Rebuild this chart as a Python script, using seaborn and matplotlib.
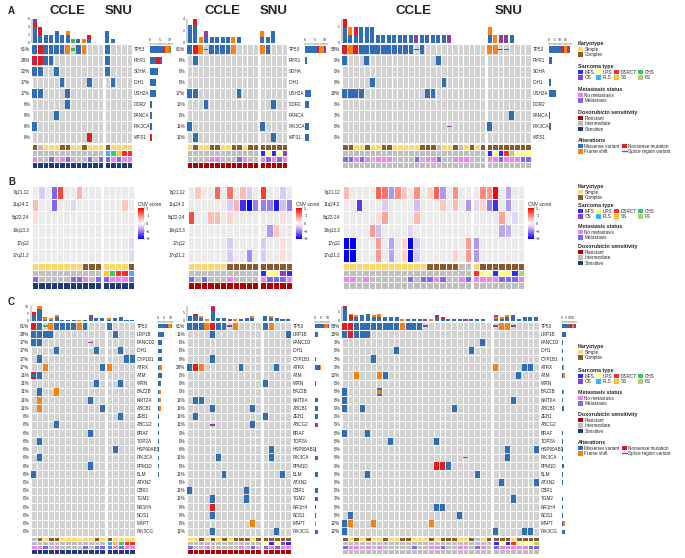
import numpy as np
import matplotlib
matplotlib.use("Agg")
import matplotlib.pyplot as plt
import seaborn as sns
from matplotlib.colors import ListedColormap, LinearSegmentedColormap
from matplotlib.patches import Rectangle, Patch
from matplotlib.lines import Line2D

sns.set_style("white")
plt.rcParams["font.family"] = ["Liberation Sans", "DejaVu Sans"]

# ------------------------------------------------------------------ data
# alteration codes: M missense, N nonsense, F frame shift, S splice region,
# G other (green), X = N+S, Y = M+F, Z = N+M ; '.' none ; '|' splits CCLE | SNU
genes_A = ["TP53", "RYR1", "SDHA", "IDH1", "USH2A", "DDR2", "FANCA", "PIK3CA", "WFS1"]

A1_alts = ["MNMMMMFGMF...|M....", "XNMM.........|M....", "MM..M........|M....",
           ".....M....M..|.M...", "MM....M......|.....", "......M......|.....",
           "....M........|.....", "M............|.....", "..........N..|....."]
A1_pct = ["61%", "28%", "22%", "17%", "17%", "6%", "6%", "6%", "6%"]
A1_kary = "C-SSSCCSSCSSS|CSSSS"
A1_sarc = "-------------|PCSDD"
A1_met = "N--M-NM---M-M|MNMNN"

A2_alts = ["MNFSMMMMF....|FM...", ".M...........|.....", ".............|.....",
           ".............|.....", "MM.......M...|.....", "...M.........|..M..",
           ".............|.....", "M............|M....", ".M...........|..M.."]
A2_pct = ["61%", "6%", "0%", "0%", "17%", "11%", "0%", "11%", "11%"]
A2_kary = "SCSSCCSSCCSCC|CCCCC"
A2_sarc = "-------------|MUMUO"
A2_met = "----NN---MN--|NMNMN"

A3_alts = ["NFNMMMMMMMMMMSM...........|FFSS....",
           "M...M............M........|........",
           "..........................|........",
           ".....M............M.......|........",
           "MMMM...........MM.........|........",
           "..........................|........",
           "..........................|....M...",
           "...................S......|M.......",
           "..........................|........"]
A3_pct = ["58%", "9%", "0%", "6%", "18%", "0%", "3%", "6%", "0%"]
A3_kary = "CCSSCSSCCSSSSSCCC-SSC-SCSC|CCCCCCCC"
A3_sarc = "--------------------------|MUMDFUUU"
A3_met = "MMNMN-NNN----M-NNM--NNN---|NNMNNNMM"

regions_B = ["7q21.12", "11q24.2", "8q22-24", "19q13.3", "17q12", "17q21.2"]
B1_cnv = ["0 -0.4 0 -1.2 1.5 0 0 0.7 0 0 0 | 0 0 0 0 0",
          "0.6 0 0 -1.2 0 0 -0.3 0 0 0 0 | 0 0 0 0.5 0",
          "0.3 0 0 0 0 0 0 0 0 0 0 | 0 0 0 0 0",
          "0 0 0 0 0 0 0 0 0 0 0 | 0 0 0 0 0",
          "0 0 0 0 0 0 0 0 0 0 0 | 0 0 0 0 -0.3",
          "0 0 0 0 0 0 0 0 0 0 0 | 0 0 0 0 -0.3"]
B1_kary = "SSSSSSSSCCC|SSSSC"
B1_sarc = "-----------|SCDDP"
B1_met = "M-----MMN-M|MNNNM"

B2_cnv = ["0 0.5 0 0 1.3 0 1.2 0 0.6 -0.4 0 | 1.6 0 0 -0.4 0",
          "0 0 0 0 0 0 -0.4 0.7 -1.6 -2 -1.0 | -1.0 -1.0 -1.8 -0.5 -1.0",
          "1.5 0 0 0.6 0.6 0 0.4 0 0 0 0 | 0 0 0 0.3 0",
          "0 0 0 0 0 0 0 0 0 0 0 | 0 -0.8 0.5 0 0",
          "0 0 0 0 0 0 -0.4 0 0 0 0 | -0.4 0 0 0.3 0",
          "0 0 0 0 0 0 -0.4 0 0 -0.9 0 | -0.4 0 0 0.3 0"]
B2_kary = "SSSSSSCCCCC|CCCCC"
B2_sarc = "-----------|MUUOM"
B2_met = "M-M---N----|NMMMN"

B3_cnv = ["0.6 0 0 0 0 1.3 1.2 -0.8 1.0 0.5 0 1.0 0 0.4 1.3 -0.8 0 1.0 0 0 | 0 1.0 0.9 2.0 0 -0.7 0 0",
          "0 0 -1.5 0 0 0 -0.4 0 0 0 0 -0.5 0 0 0 0.5 0 0.6 0 -0.8 | -0.3 0.4 -1.0 -1.6 0 -0.8 0 0",
          "0 0 0 0 0 0.3 0.8 0 0 0 0 0.6 0 0 0 0 0 0 0 0 | 0 0 0 -0.2 0.8 0 -0.3 0",
          "0 0 0 0 0.9 -0.5 0 0 0 0 -0.3 0 0 0 0 0 0 0 0 0 | 0 0 0 0 -0.7 -0.6 0 0",
          "-2 -2 0 0 0 0.9 0 -0.7 0 0.4 -2 -0.4 0 0 0 0 0 0 0 0.9 | -0.8 0 0 0 0 0 0 0",
          "-2 -2 0 0 0 0.9 0 -0.7 0 0.4 -2 -0.4 0 0 0 0 0 0.4 0 0.9 | -0.8 0 0 0 0 0 0 0"]
B3_kary = "SSSSSSSSSSSSSCCCCC--|SCCCCCCC"
B3_sarc = "--------------------|DUUMUUMF"
B3_met = "NN-N------M-MMNM--NM|NNNNMMMN"

genes_C = ["TP53", "LRP1B", "FANCD2", "IDH1", "CYP1B1", "ATRX", "ATM", "WRN", "BAZ2B",
           "KMT2A", "ABCB1", "ZEB1", "ABCG2", "BRAF", "TOP2A", "HSP90AB1", "PIK3CA",
           "PPM1D", "BLM", "ATXN2", "CBR1", "TGM2", "NR1H4", "NOS1", "MAPT", "PIK3CG"]

C1_alts = ["NMGFMMMMFM...|M....", "MMMM.........|.M...", "MM........S..|.....",
           "....M......M.|..M..", ".M...........|...MM", "..F.........M|F....",
           "ZM...........|.....", "...........M.|..M..", ".M..F........|.....",
           ".F........M..|.....", ".F..........M|.....", ".............|..M..",
           "....M........|.....", "..........M..|.....", ".M...........|.....",
           ".............|.M...", ".M...........|.....", "..........M..|.....",
           "M............|.....", ".............|.....", ".............|.....",
           ".............|.....", ".............|.....", ".............|.....",
           ".............|.....", ".............|....."]
C1_pct = ["61%", "28%", "17%", "17%", "17%", "17%", "11%", "11%", "11%", "11%", "11%",
          "6%", "6%", "6%", "6%", "6%", "6%", "6%", "6%", "0%", "0%", "0%", "0%", "0%",
          "0%", "0%"]
C1_kary = "-CSCCSSSSSSCS|CSSSS"
C1_sarc = "-------------|PSCDD"
C1_met = "NNM-N----M-MM|MNMNN"

C2_alts = ["MMMFNMMSF....|MF...", "....M........|....M", ".............|.....",
           ".............|.....", "....M........|.....", "MNF......M...|..M..",
           ".............|.....", ".............|M....", ".............|.....",
           ".MM..........|.....", "....M......M.|.....", ".M...........|M....",
           "....S......M.|.....", ".............|.....", ".............|.....",
           ".............|.M...", ".....M.......|.M...", ".............|.....",
           "......M......|...M.", ".............|.....", "M.........M..|.....",
           "....M.....M..|.....", "....N........|.....", "....M........|.....",
           "...........F.|.....", "....M........|..M.."]
C2_pct = ["61%", "11%", "0%", "0%", "6%", "28%", "0%", "6%", "0%", "11%", "11%", "11%",
          "11%", "0%", "0%", "6%", "11%", "0%", "11%", "0%", "11%", "11%", "6%", "6%",
          "0%", "11%"]
C2_kary = "SSCSCSCSCCCSC|CCCCC"
C2_sarc = "-------------|UMUOM"
C2_met = "M--N-----N-M-|MNMNN"

C3_alts = ["NNMMMMMMMMFMMMS...........|SFFS....",
           "MNMMM.....................|........",
           "........................M.|........",
           ".........M............M...|........",
           ".....M....................|........",
           "..........................|F....MM.",
           "..F...FM..................|....M...",
           "..........................|........",
           "M.....Y...................|........",
           "M.........................|...M....",
           "M..M...............M......|........",
           "..........................|........",
           "..........................|........",
           "M...M.....................|........",
           "........M.......M.........|........",
           "..........................|..M....M",
           ".....................S....|..M.....",
           "................NNM.......|........",
           "....M..................M..|........",
           "..........................|.M.....M",
           "..........................|........",
           "..........................|...M....",
           "................MM........|........",
           ".M..................M.....|........",
           "MF...F.........F..........|........",
           "M.........................|M....MM."]
C3_pct = ["58%", "15%", "3%", "6%", "3%", "9%", "12%", "0%", "6%", "6%", "9%", "0%",
          "0%", "6%", "6%", "6%", "6%", "9%", "6%", "6%", "0%", "3%", "6%", "6%",
          "12%", "12%"]
C3_kary = "CSCSCSSCSSCCSSSCSCCCSSC-SC|CCCSCCCC"
C3_sarc = "--------------------------|MUMDUUUF"
C3_met = "MNN-N-N-----M--NNM--NN-MN-|MNNNNNMM"

# ------------------------------------------------------------------ styles
GRID_GREY = "#D3D3D3"
NA_GREY = "#BEBEBE"
CNV_BG = "#EBEBEB"
ORDER = ["M", "N", "F", "S", "G"]
ALT_COLORS = {"M": "#2F6DB5", "N": "#E41A1C", "F": "#FF7F0E", "S": "#8E3FA0", "G": "#4DAF4A"}
COMBO = {"X": "NS", "Y": "MF", "Z": "NM"}
KARY_COL = {"S": "#FFD966", "C": "#8B5A2B", "-": NA_GREY}
SARC_COL = {"M": "#2B2BFF", "U": "#FFFF80", "D": "#FF2A2A", "C": "#2ECC71",
            "O": "#8B3FC9", "P": "#33B5FF", "S": "#FFC125", "F": "#A6D96A", "-": NA_GREY}
MET_COL = {"N": "#EE82EE", "M": "#7B68EE", "-": NA_GREY}
DOX_COL = {"R": "#B20000", "I": NA_GREY, "S": "#1F3A7A"}

ANN_COLORS = []


def cidx(col):
    if col not in ANN_COLORS:
        ANN_COLORS.append(col)
    return ANN_COLORS.index(col)


KARY_IDX = {k: cidx(v) for k, v in KARY_COL.items()}
SARC_IDX = {k: cidx(v) for k, v in SARC_COL.items()}
MET_IDX = {k: cidx(v) for k, v in MET_COL.items()}
DOX_IDX = {k: cidx(v) for k, v in DOX_COL.items()}
ANN_CMAP = ListedColormap(ANN_COLORS)
CNV_CMAP = LinearSegmentedColormap.from_list(
    "cnv", [(0, "#0000FF"), (0.25, "#9C7DF0"), (0.5, "#FFFFFF"), (0.75, "#FF8F80"), (1, "#FF0000")])

FS_LAB = 3.3
W, H = 685, 558
fig = plt.figure(figsize=(W / 100, H / 100), dpi=100)
fig.patch.set_facecolor("white")


def axpx(x0, y0, x1, y1):
    return fig.add_axes([x0 / W, 1 - y1 / H, (x1 - x0) / W, (y1 - y0) / H])


def halves(s):
    a, b = s.split("|")
    return a.strip(), b.strip()


def spans_of(x0, x1, nc, ns, gap=1.6):
    cw = (x1 - x0 - gap) / (nc + ns)
    return [(x0, x0 + cw * nc), (x0 + cw * nc + gap, x1)]


def draw_ann(kary, sarc, met, dox, spans, y0, y1):
    ann = [halves(kary), halves(sarc), halves(met)]
    for k, (xa, xb) in enumerate(spans):
        m = len(ann[0][k])
        codes = np.array([[KARY_IDX[c] for c in ann[0][k]],
                          [SARC_IDX[c] for c in ann[1][k]],
                          [MET_IDX[c] for c in ann[2][k]],
                          [DOX_IDX[dox]] * m])
        axa = axpx(xa, y0, xb, y1)
        sns.heatmap(codes, cmap=ANN_CMAP, vmin=-0.5, vmax=len(ANN_COLORS) - 0.5, cbar=False,
                    linewidths=0.5, linecolor="white", xticklabels=False, yticklabels=False, ax=axa)


def onco(genes, alts, pct, kary, sarc, met, dox, x0, x1, ybar, yg0, yg1, ya1,
         barx, barw, titles=False, tstep=2):
    parts = [[], []]
    for r in alts:
        for k, h in enumerate(halves(r)):
            parts[k].append(["" if c == "." else COMBO.get(c, c) for c in h])
    nc, ns = len(parts[0][0]), len(parts[1][0])
    ng = len(genes)
    spans = spans_of(x0, x1, nc, ns)
    colcounts = []
    genecounts = np.zeros((ng, len(ORDER)))
    for p in parts:
        m = len(p[0])
        cnt = np.zeros((len(ORDER), m))
        for i in range(ng):
            for j in range(m):
                for c in p[i][j]:
                    cnt[ORDER.index(c), j] += 1
                    genecounts[i, ORDER.index(c)] += 1
        colcounts.append(cnt)
    ymax = max(c.sum(0).max() for c in colcounts)
    for k, (p, (xa, xb)) in enumerate(zip(parts, spans)):
        m = len(p[0])
        axb = axpx(xa, ybar, xb, yg0 - 1)
        bottom = np.zeros(m)
        for t, code in enumerate(ORDER):
            axb.bar(np.arange(m) + 0.5, colcounts[k][t], bottom=bottom, width=0.72,
                    color=ALT_COLORS[code], linewidth=0)
            bottom += colcounts[k][t]
        axb.set_xlim(0, m)
        axb.set_ylim(0, ymax)
        axb.set_xticks([])
        for s in ["top", "right", "bottom"]:
            axb.spines[s].set_visible(False)
        if k == 0:
            axb.set_yticks(np.arange(0, ymax + 1, tstep))
            axb.tick_params(axis="y", labelsize=2.6, length=1, width=0.3, pad=0.5)
            axb.spines["left"].set_linewidth(0.3)
        else:
            axb.set_yticks([])
            axb.spines["left"].set_visible(False)
        axg = axpx(xa, yg0, xb, yg1)
        sns.heatmap(np.zeros((ng, m)), cmap=ListedColormap([GRID_GREY]), cbar=False,
                    linewidths=0.6, linecolor="white", xticklabels=False, yticklabels=False, ax=axg)
        for i in range(ng):
            for j in range(m):
                cell = p[i][j]
                full = [c for c in cell if c in "MNF"]
                for q, c in enumerate(full):
                    h = 0.86 if q == 0 else 0.4
                    axg.add_patch(Rectangle((j + 0.07, i + 0.5 - h / 2), 0.86, h,
                                            facecolor=ALT_COLORS[c], edgecolor="none"))
                for c in cell:
                    if c in "SG":
                        h = 0.16 if c == "S" else 0.32
                        axg.add_patch(Rectangle((j + 0.07, i + 0.5 - h / 2), 0.86, h,
                                                facecolor=ALT_COLORS[c], edgecolor="none"))
        if k == 0:
            for i, t in enumerate(pct):
                axg.text(-0.35, i + 0.5, t, ha="right", va="center", fontsize=FS_LAB)
        else:
            for i, g in enumerate(genes):
                axg.text(m + 0.35, i + 0.5, g, ha="left", va="center", fontsize=FS_LAB)
        if titles:
            fig.text(((xa + xb) / 2) / W, 1 - 11 / H, "CCLE" if k == 0 else "SNU",
                     ha="center", va="center", fontsize=9.5, fontweight="bold")
    draw_ann(kary, sarc, met, dox, spans, yg1 + 1, ya1)
    axr = axpx(barx, yg0, barx + barw, yg1)
    left = np.zeros(ng)
    for t, code in enumerate(ORDER):
        axr.barh(np.arange(ng) + 0.5, genecounts[:, t], left=left, height=0.55,
                 color=ALT_COLORS[code], linewidth=0)
        left += genecounts[:, t]
    axr.set_ylim(ng, 0)
    axr.set_xlim(0, left.max() * 1.08)
    axr.xaxis.tick_top()
    axr.set_xticks(np.arange(0, left.max() + 1, 5))
    axr.set_yticks([])
    for s in ["bottom", "left", "right"]:
        axr.spines[s].set_visible(False)
    axr.spines["top"].set_linewidth(0.3)
    axr.tick_params(axis="x", labelsize=2.6, length=1, width=0.3, pad=0.5)


def cnv(regions, rows, kary, sarc, met, dox, x0, x1, yg0, yg1, ya1, cbx):
    parts = [[], []]
    for r in rows:
        for k, h in enumerate(halves(r)):
            parts[k].append([float(v) for v in h.split()])
    nc, ns = len(parts[0][0]), len(parts[1][0])
    spans = spans_of(x0, x1, nc, ns)
    cax = axpx(cbx, 208, cbx + 6, 239)
    for k, (xa, xb) in enumerate(spans):
        vals = np.array(parts[k])
        ax = axpx(xa, yg0, xb, yg1)
        sns.heatmap(np.zeros_like(vals), cmap=ListedColormap([CNV_BG]), cbar=False,
                    linewidths=0.6, linecolor="white", xticklabels=False, yticklabels=False, ax=ax)
        sns.heatmap(vals, mask=(vals == 0), cmap=CNV_CMAP, vmin=-2, vmax=2,
                    cbar=(k == 0), cbar_ax=cax if k == 0 else None,
                    linewidths=0.6, linecolor="white", xticklabels=False, yticklabels=False, ax=ax)
        if k == 0:
            for i, rg in enumerate(regions):
                ax.text(-0.45, i + 0.5, rg, ha="right", va="center", fontsize=FS_LAB)
    cax.set_yticks([-2, -1, 0, 1, 2])
    cax.tick_params(labelsize=2.8, length=1, width=0.3, pad=0.6)
    for s in cax.spines.values():
        s.set_visible(False)
    fig.text(cbx / W, 1 - 204 / H, "CNV score", ha="left", va="center", fontsize=3.4)
    draw_ann(kary, sarc, met, dox, spans, yg1 + 1, ya1)


def legend_block(title, labels, colors, x, y, ncol=1, line_idx=()):
    handles = [Line2D([0], [0], color=c, lw=1.0) if i in line_idx
               else Patch(facecolor=c, edgecolor="none") for i, c in enumerate(colors)]
    fig.legend(handles, labels, loc="upper left", bbox_to_anchor=(x / W, 1 - y / H),
               ncol=ncol, title=title, frameon=False, fontsize=3.3,
               title_fontproperties={"weight": "bold", "size": 3.9},
               handlelength=1.1, handleheight=1.0, handletextpad=0.3, columnspacing=0.4,
               labelspacing=0.12, borderpad=0, borderaxespad=0, alignment="left")


def legends(x, ys, alterations=True):
    legend_block("Karyotype", ["Simple", "Complex"], [KARY_COL["S"], KARY_COL["C"]], x, ys[0])
    legend_block("Sarcoma type", ["MFS", "OS", "UPS", "PLS", "DSRCT", "SS", "CHS", "FS"],
                 [SARC_COL[c] for c in "MOUPDSCF"], x, ys[1], ncol=4)
    legend_block("Metastasis status", ["No metastasis", "Metastasis"],
                 [MET_COL["N"], MET_COL["M"]], x, ys[2])
    legend_block("Doxorubicin sensitivity", ["Resistant", "Intermediate", "Sensitive"],
                 [DOX_COL["R"], DOX_COL["I"], DOX_COL["S"]], x, ys[3])
    if alterations:
        legend_block("Alterations", ["Missense variant", "Frame shift", "Nonsense mutation",
                                     "Splice region variant"],
                     [ALT_COLORS["M"], ALT_COLORS["F"], ALT_COLORS["N"], ALT_COLORS["S"]],
                     x, ys[4], ncol=2, line_idx=(3,))


# ------------------------------------------------------------------ panel A
onco(genes_A, A1_alts, A1_pct, A1_kary, A1_sarc, A1_met, "S", 32, 132, 19, 44, 143, 168, 150, 23, titles=True)
onco(genes_A, A2_alts, A2_pct, A2_kary, A2_sarc, A2_met, "R", 187, 287, 19, 44, 143, 168, 305, 23, titles=True)
onco(genes_A, A3_alts, A3_pct, A3_kary, A3_sarc, A3_met, "I", 342, 531, 19, 44, 143, 168, 549, 23, titles=True)
legends(578, [41, 64, 87, 110, 138])

# ------------------------------------------------------------------ panel B
cnv(regions_B, B1_cnv, B1_kary, B1_sarc, B1_met, "S", 32, 134, 186, 262, 289, 138)
cnv(regions_B, B2_cnv, B2_kary, B2_sarc, B2_met, "R", 188, 292, 186, 262, 289, 296)
cnv(regions_B, B3_cnv, B3_kary, B3_sarc, B3_met, "I", 343, 524, 186, 262, 289, 528)
legends(578, [184, 203, 224, 244], alterations=False)

# ------------------------------------------------------------------ panel C
onco(genes_C, C1_alts, C1_pct, C1_kary, C1_sarc, C1_met, "S", 31, 135, 306, 322, 536, 553.5, 158, 15, tstep=5)
onco(genes_C, C2_alts, C2_pct, C2_kary, C2_sarc, C2_met, "R", 187, 291, 306, 322, 536, 553.5, 315, 15, tstep=5)
onco(genes_C, C3_alts, C3_pct, C3_kary, C3_sarc, C3_met, "I", 342, 539, 306, 322, 536, 553.5, 562, 15, tstep=5)
legends(578, [344, 368, 390, 412, 440])

for letter, yy in [("A", 11), ("B", 182), ("C", 302)]:
    fig.text(8 / W, 1 - yy / H, letter, ha="left", va="center", fontsize=7, fontweight="bold")

fig.savefig("out.png", dpi=100, facecolor="white")
